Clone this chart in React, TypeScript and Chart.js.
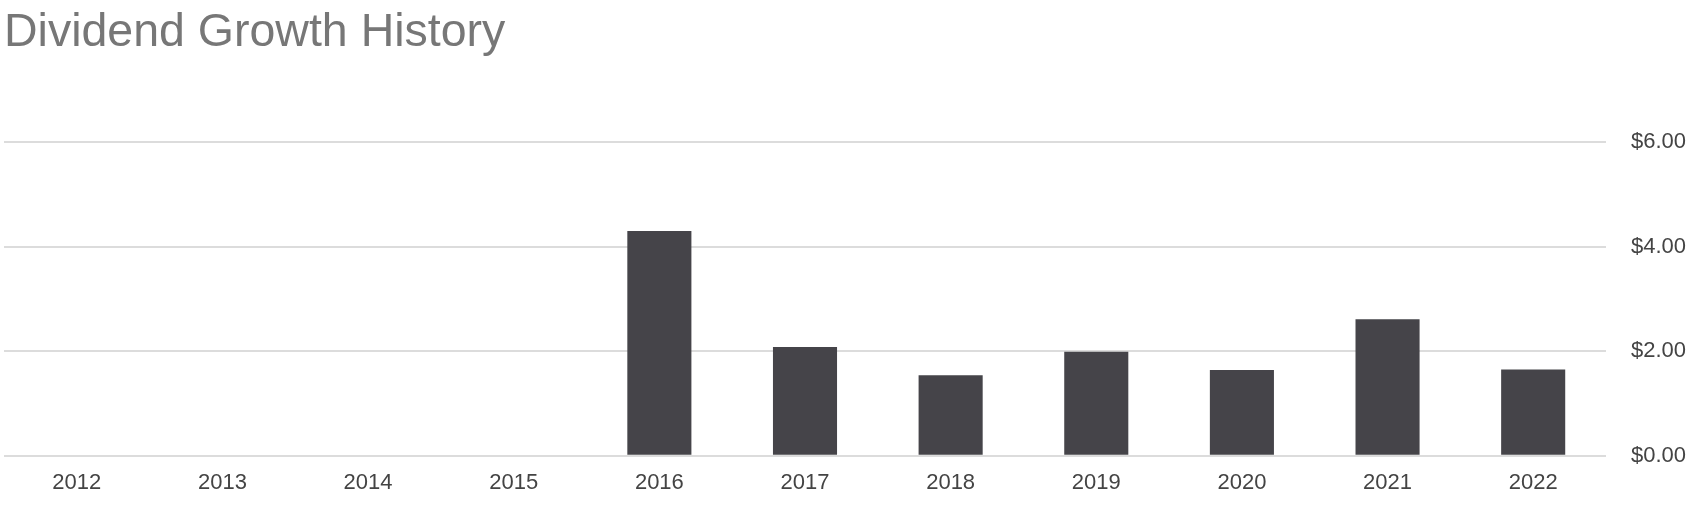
import React, { useEffect, useRef } from "react";
import { Chart, registerables } from "chart.js";

Chart.register(...registerables);

const years = ["2012", "2013", "2014", "2015", "2016", "2017", "2018", "2019", "2020", "2021", "2022"];
const dividendGrowth = [0, 0, 0, 0, 4.3, 2.08, 1.54, 1.99, 1.64, 2.61, 1.65];
const yTicks = [0, 2, 4, 6];
const chartTitle = "Dividend Growth History";

export default function App() {
  const ref = useRef<HTMLCanvasElement | null>(null);

  useEffect(() => {
    document.body.style.margin = "0";
    const canvas = ref.current;
    if (!canvas) return;
    const fontFamily = '"Liberation Sans", Arial, Helvetica, sans-serif';
    const chart = new Chart(canvas, {
      type: "bar",
      data: {
        labels: years,
        datasets: [
          {
            label: "Dividend",
            data: dividendGrowth,
            backgroundColor: "#454449",
            borderWidth: 0,
            categoryPercentage: 0.8,
            barPercentage: 0.55,
          },
        ],
      },
      options: {
        responsive: false,
        animation: false,
        layout: { padding: { left: 4, right: 10, top: 0, bottom: 0 } },
        plugins: {
          legend: { display: false },
          tooltip: { enabled: false },
          title: {
            display: true,
            text: chartTitle,
            align: "start",
            color: "#777777",
            font: { family: fontFamily, size: 46.5, weight: "normal" },
            padding: { top: 5, bottom: 81.5 },
          },
        },
        scales: {
          x: {
            grid: { display: false, drawTicks: false },
            border: { display: false },
            afterFit: (axis: any) => {
              axis.height = 54.3;
            },
            ticks: {
              color: "#444444",
              font: { family: fontFamily, size: 22 },
              padding: 14.5,
              maxRotation: 0,
            },
          },
          y: {
            position: "right",
            min: 0,
            max: 6,
            afterBuildTicks: (axis: any) => {
              axis.ticks = yTicks.map((v) => ({ value: v }));
            },
            afterFit: (axis: any) => {
              axis.width = 80;
            },
            grid: { color: "#dcdcdc", lineWidth: 2, drawTicks: false },
            border: { display: false },
            ticks: {
              color: "#444444",
              font: { family: fontFamily, size: 22 },
              padding: 25,
              callback: (v: any) => "$" + Number(v).toFixed(2),
            },
          },
        },
      },
    });
    return () => chart.destroy();
  }, []);

  return (
    <div style={{ width: 1696, height: 510 }}>
      <canvas ref={ref} width={1696} height={510} style={{ display: "block" }} />
    </div>
  );
}
